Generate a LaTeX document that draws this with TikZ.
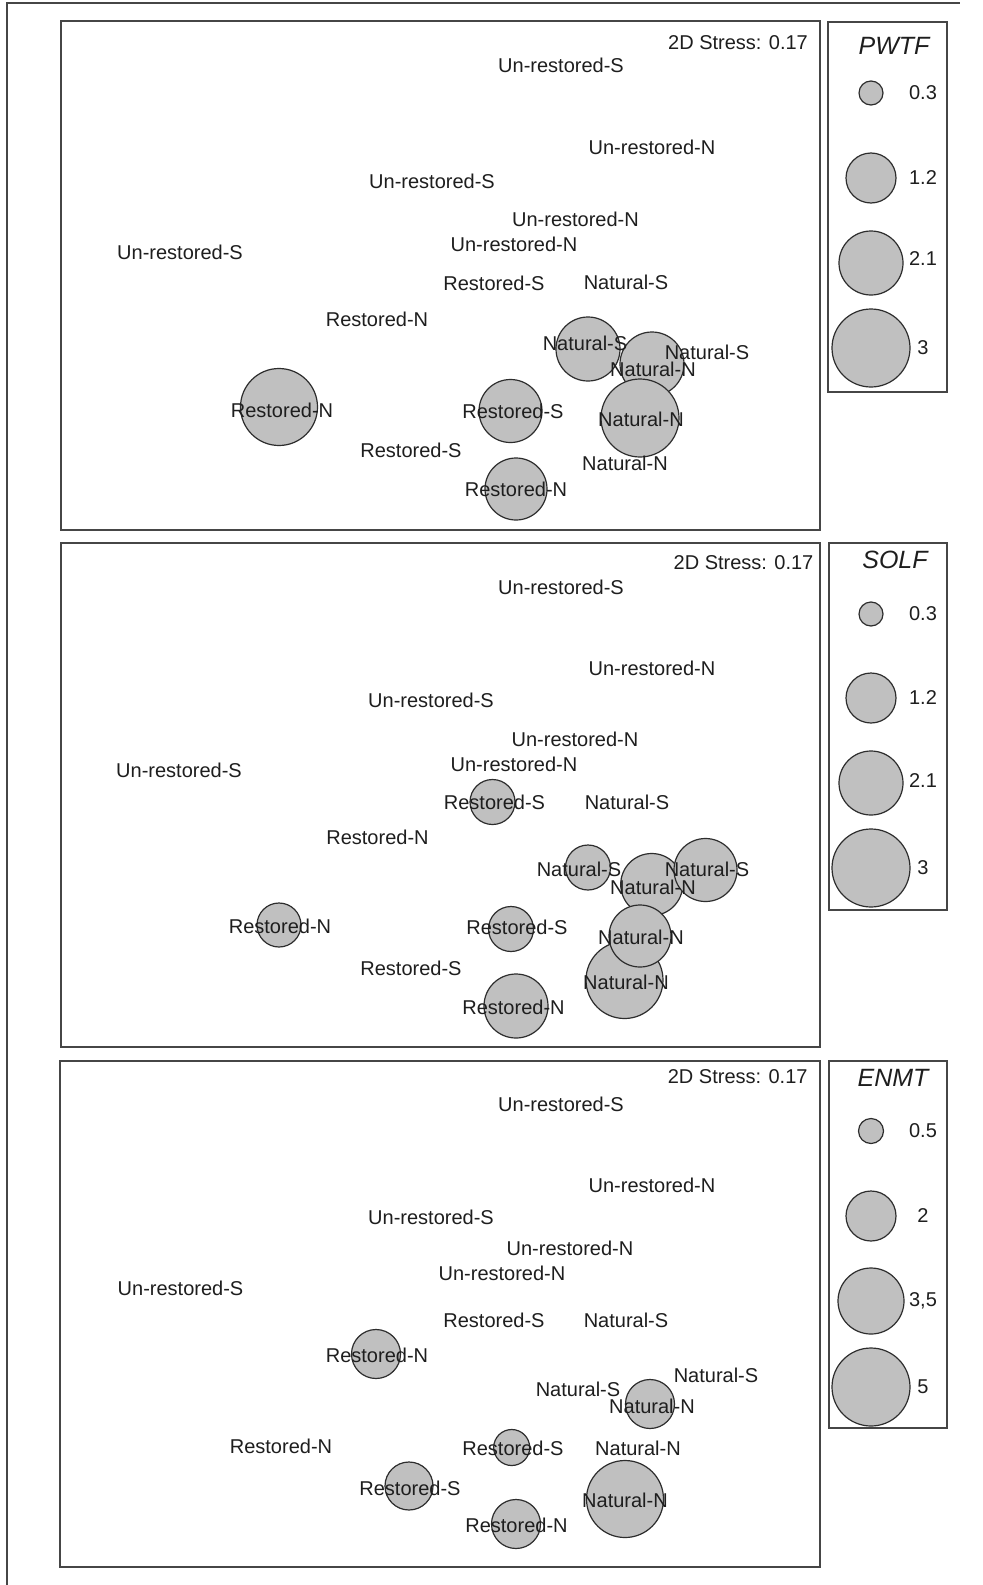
\documentclass[tikz,border=0pt]{standalone}
\usepackage{fontspec}
\setmainfont{Liberation Sans}
\definecolor{bubfill}{RGB}{192,192,192}
\definecolor{bubline}{RGB}{45,45,45}
\definecolor{boxline}{RGB}{70,70,70}
\definecolor{txt}{RGB}{30,30,30}
\tikzset{
  lbl/.style={inner sep=0pt, text=txt, font=\fontsize{20bp}{24bp}\selectfont},
  ttl/.style={inner sep=0pt, text=txt, font=\fontsize{25bp}{30bp}\selectfont\itshape},
  bub/.style={circle, draw=bubline, fill=bubfill, inner sep=0pt, line width=1.2bp},
  panelbox/.style={draw=boxline, line width=1.8bp},
  framebox/.style={draw=boxline, line width=1.5bp}
}
\begin{document}
\begin{tikzpicture}[x=1bp,y=-1bp]
\useasboundingbox[fill=white] (0,0) rectangle (982,1585);
% outer frame
\coordinate (fa) at (7,1585);
\coordinate (fb) at (7,3);
\coordinate (fc) at (960,3);
\draw[framebox] (fa) -- (fb) -- (fc);

%================ PANEL 1 =================
\draw[panelbox] (61,21) rectangle (820,530);
\draw[panelbox] (828,22) rectangle (947,392);
\node[ttl] (t1) at (894,46) {PWTF};
\node[bub,minimum size=24bp] (l1a) at (871,93) {};
\node[bub,minimum size=50bp] (l1b) at (871,178) {};
\node[bub,minimum size=64bp] (l1c) at (871,263) {};
\node[bub,minimum size=78bp] (l1d) at (871,348) {};
\node[lbl] (l1at) at (923,93) {0.3};
\node[lbl] (l1bt) at (923,178) {1.2};
\node[lbl] (l1ct) at (923,259) {2.1};
\node[lbl] (l1dt) at (923,348) {3};

\node[bub,minimum size=64bp] (p1c1) at (588,349) {};
\node[bub,minimum size=64bp] (p1c2) at (652,364) {};
\node[bub,minimum size=78bp] (p1c3) at (640,418) {};
\node[bub,minimum size=63bp] (p1c4) at (510.5,411) {};
\node[bub,minimum size=62bp] (p1c5) at (516,489) {};
\node[bub,minimum size=77bp] (p1c6) at (279,407) {};

\node[lbl] (p1s) at (738,43) {2D Stress: 0.17};
\node[lbl] (p1a) at (561,65) {Un-restored-S};
\node[lbl] (p1b) at (652,147) {Un-restored-N};
\node[lbl] (p1c) at (432,181) {Un-restored-S};
\node[lbl] (p1d) at (575.5,219) {Un-restored-N};
\node[lbl] (p1e) at (514,244.5) {Un-restored-N};
\node[lbl] (p1f) at (180,252) {Un-restored-S};
\node[lbl] (p1g) at (494,283) {Restored-S};
\node[lbl] (p1h) at (626,282) {Natural-S};
\node[lbl] (p1i) at (377,319) {Restored-N};
\node[lbl] (p1j) at (585,343) {Natural-S};
\node[lbl] (p1k) at (707,352) {Natural-S};
\node[lbl] (p1l) at (653,369) {Natural-N};
\node[lbl] (p1m) at (282,410) {Restored-N};
\node[lbl] (p1n) at (513,411) {Restored-S};
\node[lbl] (p1o) at (641,419) {Natural-N};
\node[lbl] (p1p) at (411,450.5) {Restored-S};
\node[lbl] (p1q) at (625,463) {Natural-N};
\node[lbl] (p1r) at (516,489) {Restored-N};

%================ PANEL 2 =================
\draw[panelbox] (61,543) rectangle (820,1047);
\draw[panelbox] (829,543) rectangle (947,910);
\node[ttl] (t2) at (895,560) {SOLF};
\node[bub,minimum size=24bp] (l2a) at (871,614) {};
\node[bub,minimum size=50bp] (l2b) at (871,698) {};
\node[bub,minimum size=64bp] (l2c) at (871,783) {};
\node[bub,minimum size=78bp] (l2d) at (871,868) {};
\node[lbl] (l2at) at (923,614) {0.3};
\node[lbl] (l2bt) at (923,698) {1.2};
\node[lbl] (l2ct) at (923,781) {2.1};
\node[lbl] (l2dt) at (923,868) {3};

\node[bub,minimum size=45bp] (p2c1) at (492.5,802) {};
\node[bub,minimum size=45bp] (p2c2) at (588,867.5) {};
\node[bub,minimum size=62bp] (p2c3) at (651.7,884.5) {};
\node[bub,minimum size=63bp] (p2c4) at (705.5,870) {};
\node[bub,minimum size=77bp] (p2c5) at (624.5,980) {};
\node[bub,minimum size=62bp] (p2c6) at (640,936) {};
\node[bub,minimum size=45bp] (p2c7) at (511,929) {};
\node[bub,minimum size=64bp] (p2c8) at (516,1006) {};
\node[bub,minimum size=44bp] (p2c9) at (279,925) {};

\node[lbl] (p2s) at (743.5,563) {2D Stress: 0.17};
\node[lbl] (p2a) at (561,587) {Un-restored-S};
\node[lbl] (p2b) at (652,668) {Un-restored-N};
\node[lbl] (p2c) at (431,700) {Un-restored-S};
\node[lbl] (p2d) at (575,739) {Un-restored-N};
\node[lbl] (p2e) at (514,764) {Un-restored-N};
\node[lbl] (p2f) at (179,770) {Un-restored-S};
\node[lbl] (p2g) at (494.5,802) {Restored-S};
\node[lbl] (p2h) at (627,802) {Natural-S};
\node[lbl] (p2i) at (377.5,837) {Restored-N};
\node[lbl] (p2j) at (579,869) {Natural-S};
\node[lbl] (p2k) at (707,869) {Natural-S};
\node[lbl] (p2l) at (653,887) {Natural-N};
\node[lbl] (p2m) at (280,926) {Restored-N};
\node[lbl] (p2n) at (517,927) {Restored-S};
\node[lbl] (p2o) at (641,937) {Natural-N};
\node[lbl] (p2p) at (411,968) {Restored-S};
\node[lbl] (p2q) at (626,982) {Natural-N};
\node[lbl] (p2r) at (513.5,1007) {Restored-N};

%================ PANEL 3 =================
\draw[panelbox] (60,1061) rectangle (820,1567);
\draw[panelbox] (829,1061) rectangle (947,1428);
\node[ttl] (t3) at (893,1078) {ENMT};
\node[bub,minimum size=25bp] (l3a) at (871,1131) {};
\node[bub,minimum size=50bp] (l3b) at (871,1216) {};
\node[bub,minimum size=66bp] (l3c) at (871,1301) {};
\node[bub,minimum size=78bp] (l3d) at (871,1387) {};
\node[lbl] (l3at) at (923,1131) {0.5};
\node[lbl] (l3bt) at (923,1216) {2};
\node[lbl] (l3ct) at (923,1301) {3,5};
\node[lbl] (l3dt) at (923,1387) {5};

\node[bub,minimum size=49bp] (p3c1) at (376,1354) {};
\node[bub,minimum size=49bp] (p3c2) at (650,1404) {};
\node[bub,minimum size=36bp] (p3c3) at (511.7,1447.5) {};
\node[bub,minimum size=48bp] (p3c4) at (409,1486) {};
\node[bub,minimum size=77bp] (p3c5) at (625,1499) {};
\node[bub,minimum size=49bp] (p3c6) at (516,1524) {};

\node[lbl] (p3s) at (737.7,1077) {2D Stress: 0.17};
\node[lbl] (p3a) at (561,1104) {Un-restored-S};
\node[lbl] (p3b) at (652,1185) {Un-restored-N};
\node[lbl] (p3c) at (431,1217) {Un-restored-S};
\node[lbl] (p3d) at (570,1248.5) {Un-restored-N};
\node[lbl] (p3e) at (502,1273) {Un-restored-N};
\node[lbl] (p3f) at (180.5,1288) {Un-restored-S};
\node[lbl] (p3g) at (494,1320) {Restored-S};
\node[lbl] (p3h) at (626,1320) {Natural-S};
\node[lbl] (p3i) at (377,1355) {Restored-N};
\node[lbl] (p3j) at (578,1389) {Natural-S};
\node[lbl] (p3k) at (716,1375) {Natural-S};
\node[lbl] (p3l) at (652,1406) {Natural-N};
\node[lbl] (p3m) at (281,1446.5) {Restored-N};
\node[lbl] (p3n) at (513,1448) {Restored-S};
\node[lbl] (p3o) at (638,1448) {Natural-N};
\node[lbl] (p3p) at (410,1488) {Restored-S};
\node[lbl] (p3q) at (625,1500) {Natural-N};
\node[lbl] (p3r) at (516.5,1525) {Restored-N};
\end{tikzpicture}
\end{document}
